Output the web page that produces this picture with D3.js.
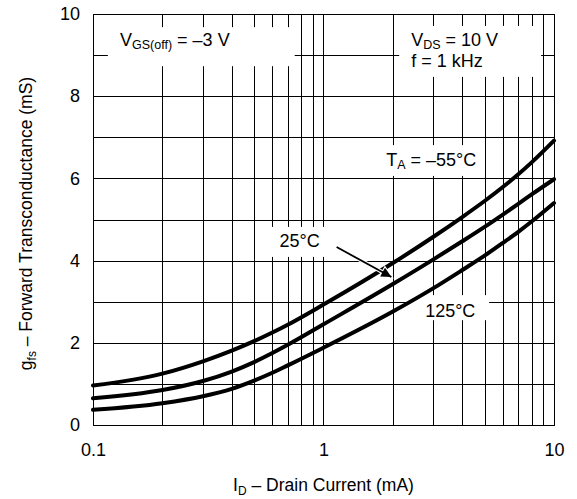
<!DOCTYPE html>
<html>
<head>
<meta charset="utf-8">
<script src="https://cdn.jsdelivr.net/npm/d3@7"></script>
<style>
  body { margin: 0; background: #fff; }
  svg text { font-family: "Liberation Sans", Arial, Helvetica, sans-serif; fill: #000; }
</style>
</head>
<body>
<div id="chart"></div>
<script>
// drain current (mA) and forward transconductance (mS)
const currents = [0.1, 0.2, 0.3, 0.4, 0.5, 0.6, 0.7, 1, 2, 3, 4, 5, 6, 7, 8, 10];
const gfsMinus55 = [0.96, 1.25, 1.55, 1.81, 2.04, 2.25, 2.44, 2.93, 3.94, 4.58, 5.06, 5.45, 5.79, 6.1, 6.39, 6.92];
const gfs25 = [0.65, 0.85, 1.07, 1.3, 1.53, 1.75, 1.95, 2.45, 3.43, 4.03, 4.47, 4.82, 5.12, 5.38, 5.61, 5.98];
const gfs125 = [0.37, 0.53, 0.7, 0.88, 1.08, 1.27, 1.45, 1.88, 2.76, 3.33, 3.77, 4.12, 4.43, 4.7, 4.95, 5.4];
const xTickValues = [0.1, 1, 10];
const yTickValues = [0, 2, 4, 6, 8, 10];

const w = 577, h = 499;
const margin = {top: 14, right: 23, bottom: 74, left: 93};

const xScale = d3.scaleLog().domain([0.1, 10]).range([margin.left, w - margin.right]);
const yScale = d3.scaleLinear().domain([0, 10]).range([h - margin.bottom, margin.top]);

const svg = d3.select("#chart").append("svg")
  .attr("width", w)
  .attr("height", h);

// grid
const grid = svg.append("g").attr("stroke", "#000").attr("stroke-width", 1);
grid.selectAll("line.v")
  .data(xScale.ticks())
  .enter().append("line")
  .attr("x1", d => Math.round(xScale(d)) + 0.5)
  .attr("x2", d => Math.round(xScale(d)) + 0.5)
  .attr("y1", yScale(0))
  .attr("y2", yScale(10));
grid.selectAll("line.h")
  .data(yScale.ticks(10))
  .enter().append("line")
  .attr("x1", xScale(0.1))
  .attr("x2", xScale(10))
  .attr("y1", d => Math.round(yScale(d)) + 0.5)
  .attr("y2", d => Math.round(yScale(d)) + 0.5);

// white boxes that break the grid behind the labels [x0, x1 (mA), y0, y1 (mS)]
const boxes = [
  [0.116, 0.75, 8.73, 9.68],
  [2.13, 8.79, 8.47, 9.71],
  [1.84, 4.88, 6.06, 6.81],
  [0.59, 1.03, 4.09, 4.82],
  [2.40, 5.23, 2.55, 3.16]
];
svg.append("g").selectAll("rect")
  .data(boxes)
  .enter().append("rect")
  .attr("x", d => xScale(d[0]))
  .attr("width", d => xScale(d[1]) - xScale(d[0]))
  .attr("y", d => yScale(d[3]))
  .attr("height", d => yScale(d[2]) - yScale(d[3]))
  .attr("fill", "#fff");

// border
svg.append("rect")
  .attr("x", Math.round(xScale(0.1)) + 0.5)
  .attr("y", Math.round(yScale(10)) + 0.5)
  .attr("width", Math.round(xScale(10)) - Math.round(xScale(0.1)))
  .attr("height", Math.round(yScale(0)) - Math.round(yScale(10)))
  .attr("fill", "none")
  .attr("stroke", "#000")
  .attr("stroke-width", 1);

// curves
const line = d3.line()
  .x(d => xScale(d[0]))
  .y(d => yScale(d[1]))
  .curve(d3.curveMonotoneX);
[gfsMinus55, gfs25, gfs125].forEach(series => {
  svg.append("path")
    .datum(currents.map((c, i) => [c, series[i]]))
    .attr("d", line)
    .attr("fill", "none")
    .attr("stroke", "#000")
    .attr("stroke-width", 4)
    .attr("stroke-linecap", "round");
});

// axes
const xAxis = d3.axisBottom(xScale)
  .tickValues(xTickValues)
  .tickFormat(d3.format("~g"))
  .tickSize(0)
  .tickPadding(18);
const gx = svg.append("g")
  .attr("transform", `translate(0, ${yScale(0)})`)
  .call(xAxis);
gx.select(".domain").remove();
gx.selectAll("text").style("font-size", "18px").attr("fill", "#000");

const yAxis = d3.axisLeft(yScale)
  .tickValues(yTickValues)
  .tickSize(0)
  .tickPadding(13);
const gy = svg.append("g")
  .attr("transform", `translate(${xScale(0.1)}, 0)`)
  .call(yAxis);
gy.select(".domain").remove();
gy.selectAll("text").style("font-size", "18px").attr("fill", "#000");

// axis titles
const xTitle = svg.append("text")
  .attr("x", (xScale(0.1) + xScale(10)) / 2)
  .attr("y", 491)
  .attr("text-anchor", "middle")
  .style("font-size", "17.5px");
xTitle.append("tspan").text("I");
xTitle.append("tspan").text("D").style("font-size", "12px").attr("dy", 4);
xTitle.append("tspan").text(" \u2013 Drain Current (mA)").attr("dy", -4);

const yTitle = svg.append("text")
  .attr("transform", `translate(32, ${(yScale(0) + yScale(10)) / 2 + 4}) rotate(-90)`)
  .attr("text-anchor", "middle")
  .style("font-size", "17.5px");
yTitle.append("tspan").text("g");
yTitle.append("tspan").text("fs").style("font-size", "12px").attr("dy", 4);
yTitle.append("tspan").text(" \u2013 Forward Transconductance (mS)").attr("dy", -4);

// annotations
function label(x, y, parts) {
  const t = svg.append("text")
    .attr("x", xScale(x))
    .attr("y", yScale(y))
    .style("font-size", "18px");
  let shift = 0;
  parts.forEach(p => {
    const s = t.append("tspan").text(p[0]);
    if (p[1]) {
      s.style("font-size", "12.5px").attr("dy", 3 - shift);
      shift = 3;
    } else {
      s.attr("dy", -shift);
      shift = 0;
    }
  });
}
label(0.131, 9.21, [["V"], ["GS(off)", true], [" = \u20133 V"]]);
label(2.40, 9.21, [["V"], ["DS", true], [" = 10 V"]]);
label(2.40, 8.70, [["f = 1 kHz"]]);
label(1.87, 6.29, [["T"], ["A", true], [" = \u201355\u00b0C"]]);
label(0.645, 4.32, [["25\u00b0C"]]);
label(2.76, 2.62, [["125\u00b0C"]]);

// arrow from the 25°C label to its curve, with a white halo over the top curve
const defs = svg.append("defs");
[["head", "#000", 0], ["halo", "#fff", 2.5]].forEach(m => {
  defs.append("marker")
    .attr("id", m[0])
    .attr("viewBox", "-3 -3 16 16")
    .attr("refX", 10)
    .attr("refY", 5)
    .attr("markerWidth", 16 * 16 / 10)
    .attr("markerHeight", 10 * 16 / 10)
    .attr("markerUnits", "userSpaceOnUse")
    .attr("orient", "auto")
    .append("path")
    .attr("d", "M0,0 L10,5 L0,10 Z")
    .attr("fill", m[1])
    .attr("stroke", m[1])
    .attr("stroke-width", m[2]);
});
const arrow = [[1.14, 4.33], [1.97, 3.6]];
[["#fff", 4, "halo"], ["#000", 1.8, "head"]].forEach(s => {
  svg.append("line")
    .attr("x1", xScale(arrow[0][0]))
    .attr("y1", yScale(arrow[0][1]))
    .attr("x2", xScale(arrow[1][0]))
    .attr("y2", yScale(arrow[1][1]))
    .attr("stroke", s[0])
    .attr("stroke-width", s[1])
    .attr("marker-end", `url(#${s[2]})`);
});
</script>
</body>
</html>
